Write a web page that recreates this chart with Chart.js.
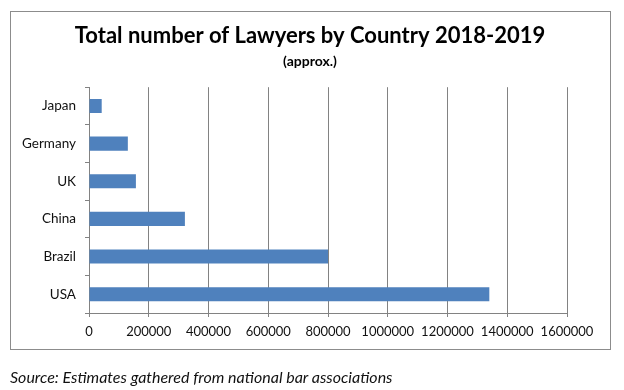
<!DOCTYPE html>
<html>
<head>
<meta charset="utf-8">
<script src="https://cdn.jsdelivr.net/npm/chart.js@4"></script>
<style>
    body { margin: 0; background: #fff; }
    #wrap { position: relative; width: 624px; height: 390px; }
    #frame {
        position: absolute; left: 10px; top: 11px;
        width: 599px; height: 337px;
        border: 1px solid #8c8c8c;
    }
    #chart { position: absolute; left: 0; top: 0; }
    #source {
        position: absolute; left: 10px; top: 367px;
        font: italic 16px Lato, sans-serif; color: #111;
    }
</style>
</head>
<body>
<div id="wrap">
    <div id="frame"></div>
    <canvas id="chart" width="624" height="390"></canvas>
    <div id="source">Source: Estimates gathered from national bar associations</div>
</div>
<script>
    // Countries, top to bottom
    const countries = ['Japan', 'Germany', 'UK', 'China', 'Brazil', 'USA'];

    // Approx. number of lawyers
    const lawyers = [42500, 130000, 157000, 321000, 800000, 1340000];

    // X axis range and step
    const xMax = 1600000;
    const xStep = 200000;

    const gridGray = '#828282';

    var ctx = document.getElementById('chart').getContext('2d');
    var lawyerChart = new Chart(ctx, {
        type: 'bar',
        data: {
            labels: countries,
            datasets: [
                {
                    data: lawyers,
                    backgroundColor: '#4f81bd', // Excel blue
                    barPercentage: 0.375,
                    categoryPercentage: 1,
                },
            ]
        },
        options: {
            indexAxis: 'y',
            responsive: false,
            animation: false,
            layout: {
                padding: { left: 10, right: 14, top: 12, bottom: 40 }
            },
            plugins: {
                legend: { display: false },
                tooltip: { enabled: false },
                title: {
                    display: true,
                    text: 'Total number of Lawyers by Country 2018-2019',
                    color: '#000',
                    font: { family: 'Lato', size: 22, weight: 'bold' },
                    padding: { top: 11, bottom: 0 }
                },
                subtitle: {
                    display: true,
                    text: '(approx.)',
                    color: '#000',
                    font: { family: 'Lato', size: 14, weight: 'bold' },
                    padding: { top: 4, bottom: 17 }
                }
            },
            scales: {
                x: {
                    min: 0,
                    max: xMax,
                    ticks: {
                        stepSize: xStep,
                        color: '#111',
                        padding: 7,
                        font: { family: 'Lato', size: 13 },
                        callback: value => String(value)
                    },
                    grid: {
                        color: gridGray,
                        tickLength: 4,
                        lineWidth: 1
                    },
                    border: { color: gridGray },
                    afterFit: scale => { scale.height = 37; }
                },
                y: {
                    ticks: {
                        color: '#111',
                        padding: 9,
                        font: { family: 'Lato', size: 13.5 }
                    },
                    grid: {
                        drawOnChartArea: false,
                        offset: true,
                        color: gridGray,
                        tickLength: 4
                    },
                    border: { color: gridGray },
                    afterFit: scale => { scale.width = 79; }
                },
                // empty spacer on the right so the title stays centred in the frame
                spacer: {
                    type: 'category',
                    axis: 'y',
                    position: 'right',
                    ticks: { display: false },
                    grid: { display: false },
                    border: { display: false },
                    afterFit: scale => { scale.width = 43; }
                }
            }
        }
    });
</script>
</body>
</html>
